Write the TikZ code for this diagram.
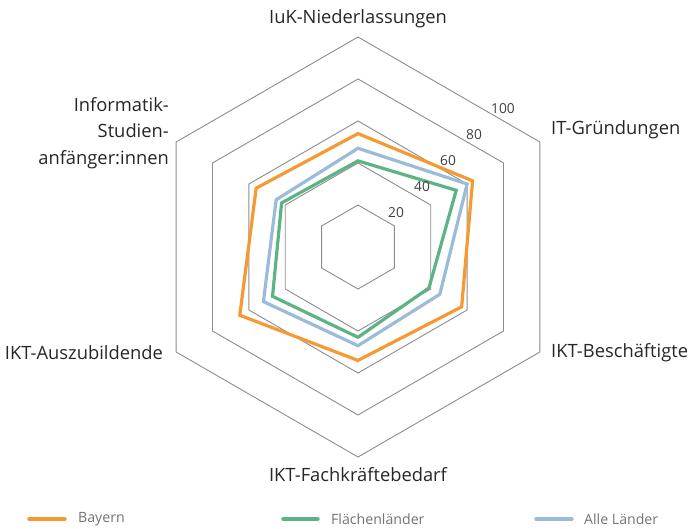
\documentclass[tikz,border=0pt]{standalone}
\usepackage{fontspec}
\setmainfont{Open Sans}
\definecolor{bayern}{HTML}{F59A32}
\definecolor{flaeche}{HTML}{5DB383}
\definecolor{alle}{HTML}{9ABBDA}
\definecolor{gitter}{HTML}{8C8C8C}
\begin{document}
\begin{tikzpicture}[x=1bp,y=1bp,
    achse/.style={font=\fontsize{18.4}{26.5}\selectfont, text=black!85, inner sep=0pt},
    skala/.style={font=\fontsize{13.8}{16}\selectfont, text=black!75, inner sep=0pt},
    legende/.style={font=\fontsize{14.2}{17}\selectfont, text=black!55, inner sep=0pt, anchor=west},
    reihe/.style={line width=3.2bp},
    marke/.style={line width=3.4bp, line cap=round}]
    \useasboundingbox (-358,-282) rectangle (332,247);

    \begin{scope}[scale=2.1]
        \foreach \r in {20,40,60,80,100}
            \draw[gitter, line width=0.9bp] (90:\r) -- (30:\r) -- (-30:\r) -- (-90:\r) -- (-150:\r) -- (150:\r) -- cycle;

        \draw[reihe, flaeche] (90:41) -- (30:54) -- (-30:39) -- (-90:43) -- (-150:47) -- (150:42) -- cycle;
        \draw[reihe, alle] (90:47) -- (30:60) -- (-30:45) -- (-90:47) -- (-150:52) -- (150:45) -- cycle;
        \draw[reihe, bayern] (90:54) -- (30:63) -- (-30:57) -- (-90:54) -- (-150:65) -- (150:56) -- cycle;
    \end{scope}

    \node[skala] (s20) at (38,34) {20};
    \node[skala] (s40) at (64,60) {40};
    \node[skala] (s60) at (90,86) {60};
    \node[skala] (s80) at (116,112) {80};
    \node[skala] (s100) at (145,138) {100};

    \node[achse] (iuk) at (0,228) {IuK-Niederlassungen};
    \node[achse, anchor=west] (itg) at (193,117) {IT-Gründungen};
    \node[achse, anchor=west] (ikb) at (193,-106) {IKT-Beschäftigte};
    \node[achse] (ikf) at (0,-228) {IKT-Fachkräftebedarf};
    \node[achse, anchor=east] (ika) at (-195,-106) {IKT-Auszubildende};
    \node[achse, anchor=east, align=right] (inf) at (-189,114) {Informatik-\\Studien-\\anfänger:innen};

    \coordinate (b1) at (-329,-272);
    \coordinate (b2) at (-293,-272);
    \coordinate (f1) at (-75,-272);
    \coordinate (f2) at (-40,-272);
    \coordinate (a1) at (178,-272);
    \coordinate (a2) at (214,-272);
    \draw[marke, bayern] (b1) -- (b2);
    \draw[marke, flaeche] (f1) -- (f2);
    \draw[marke, alle] (a1) -- (a2);
    \node[legende] (lbay) at (-280,-272) {Bayern};
    \node[legende] (lfl) at (-27,-272) {Flächenländer};
    \node[legende] (lal) at (226,-272) {Alle Länder};
\end{tikzpicture}
\end{document}
